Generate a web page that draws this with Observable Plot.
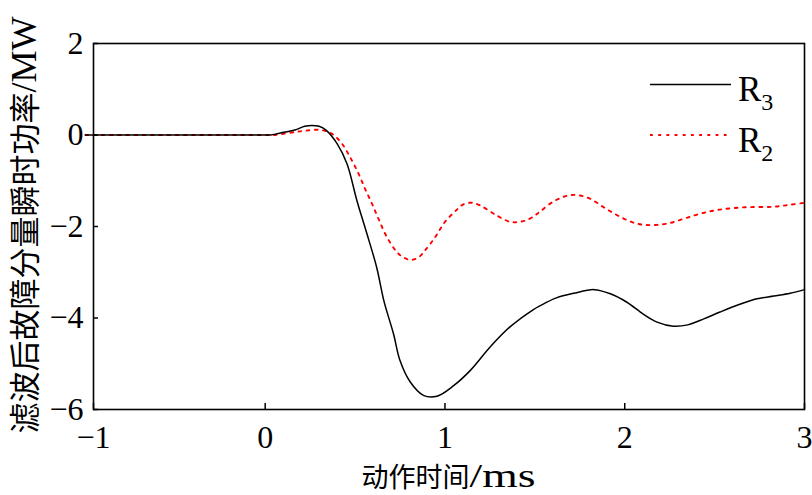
<!DOCTYPE html>
<html>
<head>
<meta charset="utf-8">
<script src="https://cdn.jsdelivr.net/npm/d3@7"></script>
<script src="https://cdn.jsdelivr.net/npm/@observablehq/plot@0.6"></script>
<style>
  html, body { margin: 0; padding: 0; background: #fff; }
  #chart { width: 812px; height: 495px; }
</style>
</head>
<body>
<div id="chart"></div>
<script>
// ---- data ----
const seriesNames = ["R3", "R2"];

const r3X = [-1, 0, 0.03, 0.08, 0.164, 0.22, 0.26, 0.3, 0.34, 0.40, 0.455, 0.51, 0.566, 0.62, 0.66, 0.714, 0.75, 0.807, 0.88, 0.955, 1.048, 1.14, 1.25, 1.36, 1.49, 1.53, 1.62, 1.716, 1.83, 1.92, 2.01, 2.105, 2.18, 2.27, 2.35, 2.44, 2.53, 2.64, 2.736, 2.83, 2.92, 3.0];
const r3Y = [0, 0, 0, 0.04, 0.11, 0.19, 0.21, 0.19, 0.1, -0.19, -0.63, -1.43, -2.16, -2.89, -3.62, -4.35, -4.93, -5.40, -5.69, -5.71, -5.48, -5.15, -4.64, -4.2, -3.82, -3.73, -3.56, -3.46, -3.38, -3.47, -3.65, -3.92, -4.09, -4.18, -4.15, -4.02, -3.87, -3.70, -3.58, -3.52, -3.46, -3.38];

const r2X = [-1, 0, 0.05, 0.195, 0.306, 0.37, 0.427, 0.473, 0.52, 0.556, 0.594, 0.63, 0.677, 0.733, 0.77, 0.812, 0.854, 0.89, 0.946, 1.0, 1.067, 1.10, 1.15, 1.196, 1.28, 1.363, 1.41, 1.456, 1.50, 1.53, 1.614, 1.707, 1.80, 1.883, 1.966, 2.06, 2.15, 2.244, 2.337, 2.43, 2.53, 2.67, 2.82, 2.91, 3.0];
const r2Y = [0, 0, 0, 0.08, 0.11, 0.03, -0.19, -0.49, -0.85, -1.18, -1.50, -1.83, -2.23, -2.56, -2.68, -2.73, -2.67, -2.52, -2.23, -1.9, -1.63, -1.52, -1.48, -1.54, -1.74, -1.9, -1.9, -1.86, -1.76, -1.67, -1.43, -1.31, -1.38, -1.58, -1.77, -1.93, -1.97, -1.93, -1.82, -1.71, -1.63, -1.58, -1.57, -1.53, -1.48];

const xMin = -0.955, xMax = 3;
const xTicks = [xMin, 0, 1, 2, 3];
const xTickLabels = ["−1", "0", "1", "2", "3"];
const yTicks = [-6, -4, -2, 0, 2];
const yTickLabels = ["−6", "−4", "−2", "0", "2"];
const xTitleCJK = "动作时间", xTitleUnit = "/ms";
const yTitleCJK = "滤波后故障分量瞬时功率", yTitleUnit = "/MW";

const r3 = r3X.map((x, i) => ({x, y: r3Y[i]}));
const r2 = r2X.map((x, i) => ({x, y: r2Y[i]}));

const serif = "'Liberation Serif', 'Times New Roman', serif";
const cjk = "'Noto Sans CJK SC', sans-serif";

const plot = Plot.plot({
  width: 812,
  height: 495,
  marginLeft: 93,
  marginRight: 8,
  marginTop: 43,
  marginBottom: 86,
  style: {fontFamily: serif, background: "#fff", color: "#000"},
  x: {domain: [xMin, xMax], label: null},
  y: {domain: [-6, 2], label: null},
  marks: [
    Plot.line(r2, {x: "x", y: "y", stroke: "#ff0000", strokeWidth: 1.9, strokeDasharray: "2.8,5.4", curve: "catmull-rom"}),
    Plot.line(r3, {x: "x", y: "y", stroke: "#000", strokeWidth: 1.5, curve: "catmull-rom"}),
    Plot.frame({stroke: "#000", strokeWidth: 1.6}),
    Plot.axisX({ticks: xTicks, tickFormat: (d) => xTickLabels[xTicks.indexOf(d)], tickSize: -6, tickPadding: 22, fontSize: 32, fontFamily: serif, stroke: "#000", strokeWidth: 1.5, label: null}),
    Plot.axisY({ticks: yTicks, tickFormat: (d) => yTickLabels[yTicks.indexOf(d)], tickSize: -5, tickPadding: 15, fontSize: 32, fontFamily: serif, stroke: "#000", strokeWidth: 1.5, label: null})
  ]
});

document.getElementById("chart").appendChild(plot);

const svg = d3.select(plot);

// x title
const xt = svg.append("text")
  .attr("x", 448.5).attr("y", 487)
  .attr("text-anchor", "middle")
  .attr("fill", "#000");
xt.append("tspan").attr("font-family", cjk).attr("font-size", 27).text(xTitleCJK);
xt.append("tspan").attr("font-family", serif).attr("font-size", 33)
  .attr("textLength", 66).attr("lengthAdjust", "spacingAndGlyphs").text(xTitleUnit);

// y title
const yt = svg.append("text")
  .attr("transform", "translate(36,225) rotate(-90)")
  .attr("text-anchor", "middle")
  .attr("fill", "#000");
yt.append("tspan").attr("font-family", cjk).attr("font-size", 31).text(yTitleCJK);
yt.append("tspan").attr("font-family", serif).attr("font-size", 36).text(yTitleUnit);

// legend
const legend = svg.append("g").attr("class", "legend").attr("text-anchor", "start");
const legendItems = [
  {name: "R", sub: "3", stroke: "#000", dash: null, width: 1.5, ly: 84.5, ty: 101},
  {name: "R", sub: "2", stroke: "#ff0000", dash: "2.8,5.4", width: 1.9, ly: 135, ty: 152}
];
legendItems.forEach(it => {
  legend.append("line")
    .attr("x1", 650).attr("x2", 731).attr("y1", it.ly).attr("y2", it.ly)
    .attr("stroke", it.stroke).attr("stroke-width", it.width)
    .attr("stroke-dasharray", it.dash);
  const t = legend.append("text").attr("x", 738).attr("y", it.ty)
    .attr("text-anchor", "start")
    .attr("font-family", serif).attr("font-size", 35).attr("fill", "#000");
  t.append("tspan").text(it.name);
  t.append("tspan").attr("font-size", 24).attr("dy", 9).text(it.sub);
});
</script>
</body>
</html>
